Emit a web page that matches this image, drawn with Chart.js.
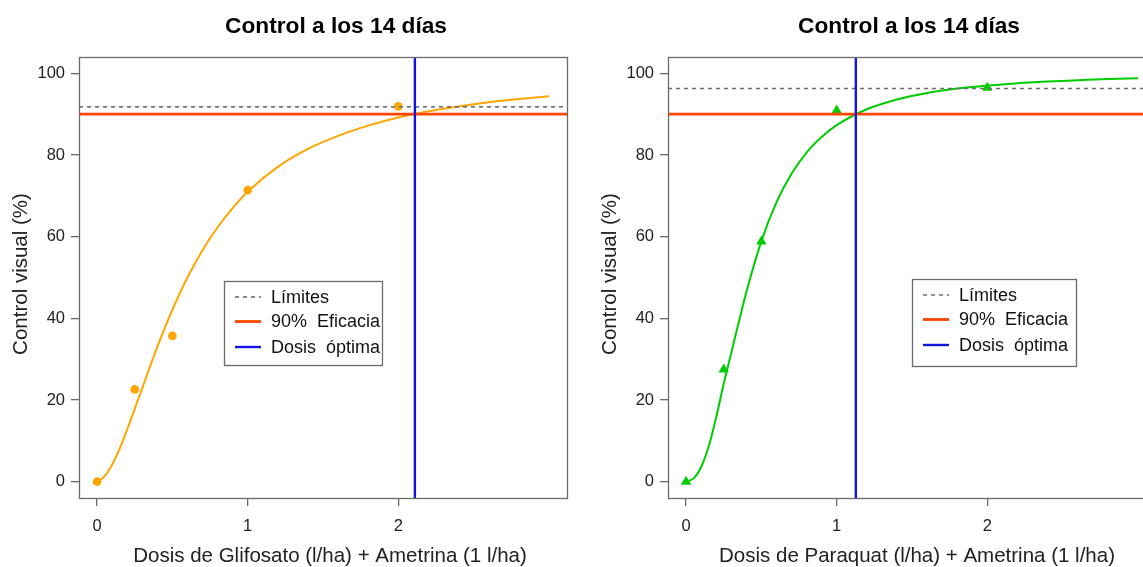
<!DOCTYPE html>
<html>
<head>
<meta charset="utf-8">
<script src="https://cdn.jsdelivr.net/npm/chart.js@4.4.1/dist/chart.umd.min.js"></script>
<style>
  html, body { margin:0; padding:0; background:#fff; overflow:hidden; width:1143px; height:567px; }
  #wrap { position:relative; width:1143px; height:567px; overflow:hidden; }
  canvas { position:absolute; top:0; }
</style>
</head>
<body>
<div id="wrap">
  <canvas id="c1" width="588" height="567" style="left:0px"></canvas>
  <canvas id="c2" width="588" height="567" style="left:589px"></canvas>
</div>
<script>
// ---- data ----
const dosis = [0, 0.25, 0.5, 1, 2];
const controlGlifosato = [0, 22.6, 35.7, 71.4, 91.9];
const controlParaquat = [0, 27.5, 58.8, 90.9, 96.5];

const curvaGlifosatoX = [0, 0.05, 0.1, 0.15, 0.2, 0.25, 0.3, 0.4, 0.5, 0.6, 0.7, 0.8, 0.9, 1.0, 1.2, 1.4, 1.6, 1.8, 2.0, 2.2, 2.4, 2.6, 2.8, 3.0];
const curvaGlifosatoY = [0, 1.3, 4.2, 8.1, 12.8, 17.8, 22.9, 33.0, 42.1, 50.0, 56.7, 62.3, 67.0, 71.0, 77.1, 81.5, 84.7, 87.2, 89.2, 90.7, 91.9, 92.9, 93.7, 94.4];

const curvaParaquatX = [0, 0.05, 0.1, 0.15, 0.2, 0.25, 0.3, 0.35, 0.4, 0.5, 0.6, 0.7, 0.8, 0.9, 1.0, 1.2, 1.4, 1.6, 1.8, 2.0, 2.2, 2.4, 2.6, 2.8, 3.0];
const curvaParaquatY = [0, 0.8, 3.6, 8.6, 15.8, 24.0, 31.5, 39.1, 46.4, 58.9, 68.4, 75.4, 80.6, 84.4, 87.3, 91.2, 93.6, 95.2, 96.3, 97.0, 97.6, 98.0, 98.3, 98.6, 98.8];

const limiteGlifosato = 91.8;
const limiteParaquat = 96.3;
const eficacia = 90;
const dosisOptimaGlifosato = 2.11;
const dosisOptimaParaquat = 1.127;

const yTicks = [0, 20, 40, 60, 80, 100];
const xTicks = [0, 1, 2];
const titulo = 'Control a los 14 días';
const ejeY = 'Control visual (%)';
const xLabelGlifosato = 'Dosis de Glifosato (l/ha) + Ametrina (1 l/ha)';
const xLabelParaquat = 'Dosis de Paraquat (l/ha) + Ametrina (1 l/ha)';
const leyenda = ['Límites', '90%  Eficacia', 'Dosis  óptima'];

const FONT = '"Liberation Sans", Arial, Helvetica, sans-serif';
const C_RED = '#FF4500';
const C_BLUE = '#1414E0';
const C_GREY = '#6e6e6e';
const C_BOX = '#6a6a6a';

function panelPlugin(p) {
  return {
    id: 'panel',
    afterDatasetsDraw(chart) {
      const ctx = chart.ctx, a = chart.chartArea;
      const xs = chart.scales.x, ys = chart.scales.y;
      ctx.save();
      ctx.beginPath(); ctx.rect(a.left, a.top, a.right - a.left, a.bottom - a.top); ctx.clip();
      // limit (dashed)
      let y = ys.getPixelForValue(p.limite);
      ctx.strokeStyle = C_GREY; ctx.lineWidth = 1.6; ctx.setLineDash([4, 4]);
      ctx.beginPath(); ctx.moveTo(a.left, y); ctx.lineTo(a.right, y); ctx.stroke();
      ctx.setLineDash([]);
      // 90%
      y = ys.getPixelForValue(eficacia);
      ctx.strokeStyle = C_RED; ctx.lineWidth = 2.8;
      ctx.beginPath(); ctx.moveTo(a.left, y); ctx.lineTo(a.right, y); ctx.stroke();
      // optimal dose
      const x = xs.getPixelForValue(p.optima);
      ctx.strokeStyle = C_BLUE; ctx.lineWidth = 2.4;
      ctx.beginPath(); ctx.moveTo(x, a.top); ctx.lineTo(x, a.bottom); ctx.stroke();
      ctx.restore();
    },
    afterDraw(chart) {
      const ctx = chart.ctx, a = chart.chartArea;
      ctx.save();
      // box
      ctx.strokeStyle = C_BOX; ctx.lineWidth = 1.3;
      ctx.strokeRect(a.left + 0.5, a.top + 0.5, a.right - a.left, a.bottom - a.top);
      // title
      ctx.fillStyle = '#000';
      ctx.font = 'bold 22.7px ' + FONT;
      ctx.textAlign = 'center'; ctx.textBaseline = 'middle';
      ctx.fillText(titulo, p.titleX, 27);
      // x label
      ctx.fillStyle = '#222';
      ctx.font = '20.5px ' + FONT;
      ctx.fillText(p.xlabel, p.xlabelX, 556);
      // y label
      ctx.save();
      ctx.translate(21, 274); ctx.rotate(-Math.PI / 2);
      ctx.fillText(ejeY, 0, 0);
      ctx.restore();
      // legend
      const L = p.legend;
      ctx.fillStyle = '#fff';
      ctx.fillRect(L.x, L.y, L.w, L.h);
      ctx.strokeStyle = C_BOX; ctx.lineWidth = 1.3;
      ctx.strokeRect(L.x + 0.5, L.y + 0.5, L.w, L.h);
      const rows = [L.y + 16, L.y + 40.5, L.y + 66];
      const styles = [[C_GREY, 1.6, [4, 4]], [C_RED, 2.8, []], [C_BLUE, 2.4, []]];
      ctx.font = '18px ' + FONT; ctx.textAlign = 'left'; ctx.textBaseline = 'middle';
      for (let i = 0; i < 3; i++) {
        ctx.strokeStyle = styles[i][0]; ctx.lineWidth = styles[i][1]; ctx.setLineDash(styles[i][2]);
        ctx.beginPath(); ctx.moveTo(L.x + 11, rows[i]); ctx.lineTo(L.x + 37, rows[i]); ctx.stroke();
        ctx.setLineDash([]);
        ctx.fillStyle = '#111';
        ctx.fillText(leyenda[i], L.x + 47, rows[i] + 1);
      }
      ctx.restore();
    }
  };
}

function makePanel(id, pts, cx, cy, color, pstyle, prad, p) {
  const scatter = dosis.map((d, i) => ({ x: d, y: pts[i] }));
  const curve = cx.map((d, i) => ({ x: d, y: cy[i] }));
  new Chart(document.getElementById(id), {
    type: 'scatter',
    data: {
      datasets: [
        { type: 'line', data: curve, borderColor: color, borderWidth: 2, pointRadius: 0,
          cubicInterpolationMode: 'monotone', fill: false, order: 2 },
        { data: scatter, backgroundColor: color, borderColor: color, pointStyle: pstyle,
          pointRadius: prad, pointBorderWidth: 0, order: 1 }
      ]
    },
    options: {
      responsive: false, animation: false, devicePixelRatio: 1,
      layout: { padding: { left: 0, right: 21, top: 57, bottom: 0 } },
      plugins: { legend: { display: false }, title: { display: false }, tooltip: { enabled: false } },
      scales: {
        x: {
          type: 'linear', min: -0.12, max: 3.12,
          afterBuildTicks: (ax) => { ax.ticks = xTicks.map(v => ({ value: v })); },
          afterFit: (s) => { s.height = 69; },
          grid: { display: true, drawOnChartArea: false, drawTicks: true, tickLength: 8, color: C_BOX, lineWidth: 1.3 },
          border: { display: false },
          ticks: { font: { family: FONT, size: 16.5 }, color: '#222', padding: 11, maxRotation: 0,
                   callback: (v) => String(v) }
        },
        y: {
          type: 'linear', min: -4, max: 104,
          afterBuildTicks: (ax) => { ax.ticks = yTicks.map(v => ({ value: v })); },
          afterFit: (s) => { s.width = 79; },
          grid: { display: true, drawOnChartArea: false, drawTicks: true, tickLength: 8, color: C_BOX, lineWidth: 1.3 },
          border: { display: false },
          ticks: { font: { family: FONT, size: 16.5 }, color: '#222', padding: 6,
                   callback: (v) => String(v) }
        }
      }
    },
    plugins: [panelPlugin(p)]
  });
}

makePanel('c1', controlGlifosato, curvaGlifosatoX, curvaGlifosatoY, '#FFA500', 'circle', 4.3, {
  limite: limiteGlifosato, optima: dosisOptimaGlifosato, titleX: 336, xlabel: xLabelGlifosato, xlabelX: 330,
  legend: { x: 224, y: 281, w: 158, h: 84 }
});
makePanel('c2', controlParaquat, curvaParaquatX, curvaParaquatY, '#00CD00', 'triangle', 6, {
  limite: limiteParaquat, optima: dosisOptimaParaquat, titleX: 320, xlabel: xLabelParaquat, xlabelX: 328,
  legend: { x: 323, y: 279, w: 164, h: 87 }
});
</script>
</body>
</html>
